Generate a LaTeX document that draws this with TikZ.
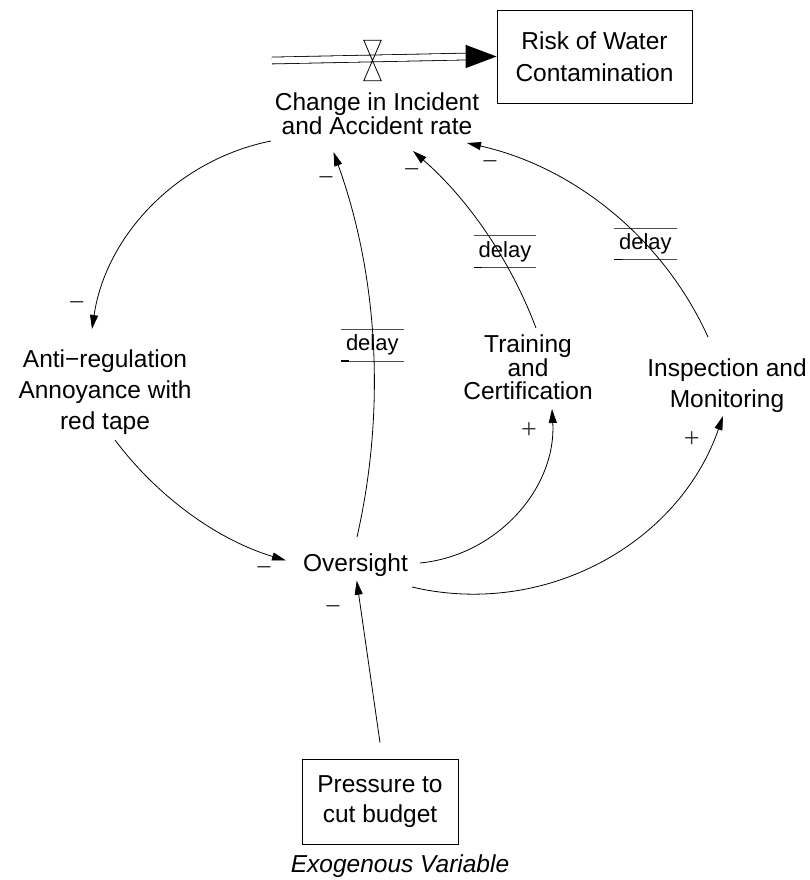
\documentclass[tikz,border=0pt]{standalone}
\usepackage{fontspec}
\setmainfont{Liberation Sans}
\newfontfamily\signfont{Liberation Serif}
\usetikzlibrary{arrows.meta,calc}

\begin{document}
\begin{tikzpicture}[x=1pt,y=-1pt,
    var/.style={inner sep=0pt,align=center,font=\fontsize{24.5}{31}\selectfont},
    boxvar/.style={var,draw,line width=0.9pt},
    delaybox/.style={inner sep=0pt,minimum width=62pt,minimum height=31pt,font=\fontsize{22}{22}\selectfont},
    link/.style={line width=0.8pt,-{Triangle[length=14pt,width=8pt]}},
    sign/.style={inner sep=0pt,text=black!80,font=\signfont\fontsize{28}{28}\selectfont}]
    \useasboundingbox (0,0) rectangle (810,880);

    % Variables
    \node[boxvar,minimum width=195pt,minimum height=93pt,font=\fontsize{24.5}{32}\selectfont] (risk) at (594.5,56.5) {Risk of Water\\Contamination};
    \node[var,font=\fontsize{24.5}{22.5}\selectfont] (chg) at (377,114) {Change in Incident\\and Accident rate};
    \node[var] (anti) at (105,392.5) {Anti−regulation\\Annoyance with\\red tape};
    \node[var] (over) at (355.5,565.5) {Oversight};
    \node[var,font=\fontsize{24.5}{23.5}\selectfont] (train) at (528,367.5) {Training\\and\\Certification};
    \node[var] (insp) at (727,386) {Inspection and\\Monitoring};
    \node[boxvar,minimum width=156pt,minimum height=85pt,font=\fontsize{24.5}{30}\selectfont] (press) at (380,801.5) {Pressure to\\cut budget};
    \node[var,font=\fontsize{24.5}{31}\selectfont\itshape] (exo) at (400,866.5) {Exogenous Variable};

    % Flow into the stock
    \coordinate (src) at (272,60.5);
    \draw[line width=0.8pt,double distance=6pt] (src) -- ($(risk.west)+(-28,0)$);
    \fill (risk.west) -- ++(-31,-11.7) -- ++(0,23.4) -- cycle;
    \node[inner sep=0pt,minimum width=17pt,minimum height=40pt] (valve) at (372.5,60.5) {};
    \draw[line width=0.8pt] (valve.north west) -- (valve.north east) -- (valve.south west) -- (valve.south east) -- cycle;

    % Delay marks
    \node[delaybox] (dOver) at (372.3,345.3) {delay};
    \node[delaybox] (dTrain) at (505,251.5) {delay};
    \node[delaybox] (dInsp) at (645.4,244) {delay};
    \foreach \d in {dOver,dTrain,dInsp} {
        \draw[line width=0.8pt,black!70] (\d.north west) -- (\d.north east) (\d.south west) -- (\d.south east);
        \draw[line width=1.2pt] (\d.south west) -- ++(8,0);
    }

    % Causal links
    \draw[link] ($(chg)+(-106,27)$) .. controls +(-93.4,18.7) and +(14.1,-94.2) .. ($(anti)+(-13,-63.5)$);
    \draw[link] ($(anti)+(10,47.5)$) .. controls +(42.8,57) and +(-68.4,-20.6) .. ($(over)+(-69.5,-5)$);
    \draw[link] ($(over)+(1.5,-28.5)$) .. controls +(29.1,-127.8) and +(44.4,123.4) .. ($(chg)+(-43.5,38)$);
    \draw[link] ($(train)+(8,-39.5)$) .. controls +(-25.8,-68.3) and +(55,48) .. ($(chg)+(36,37)$);
    \draw[link] ($(insp)+(-19,-49)$) .. controls +(-45,-99.2) and +(106.3,23.7) .. ($(chg)+(90,29)$);
    \draw[link] ($(over)+(64.5,-2.5)$) .. controls +(78.1,-7.7) and +(4.4,78.3) .. ($(train)+(24,41.5)$);
    \draw[link] ($(over)+(56.5,21.5)$) .. controls +(132.1,31.2) and +(-44.3,128.3) .. ($(insp)+(-4,30)$);
    \draw[link] ($(press.north)+(0,-16)$) -- ($(over)+(1.2,15.2)$);

    % Polarities
    \node[sign] (sAnti) at (76.7,306.7) {−};
    \node[sign] (sOverIn) at (264,571.7) {−};
    \node[sign] (sOverChg) at (326,181.7) {−};
    \node[sign] (sTrainChg) at (411.7,173.3) {−};
    \node[sign] (sInspChg) at (490,166) {−};
    \node[sign] (sPress) at (333,610) {−};
    \node[sign] (sTrain) at (529,431) {+};
    \node[sign] (sInsp) at (691.7,440) {+};
\end{tikzpicture}
\end{document}
